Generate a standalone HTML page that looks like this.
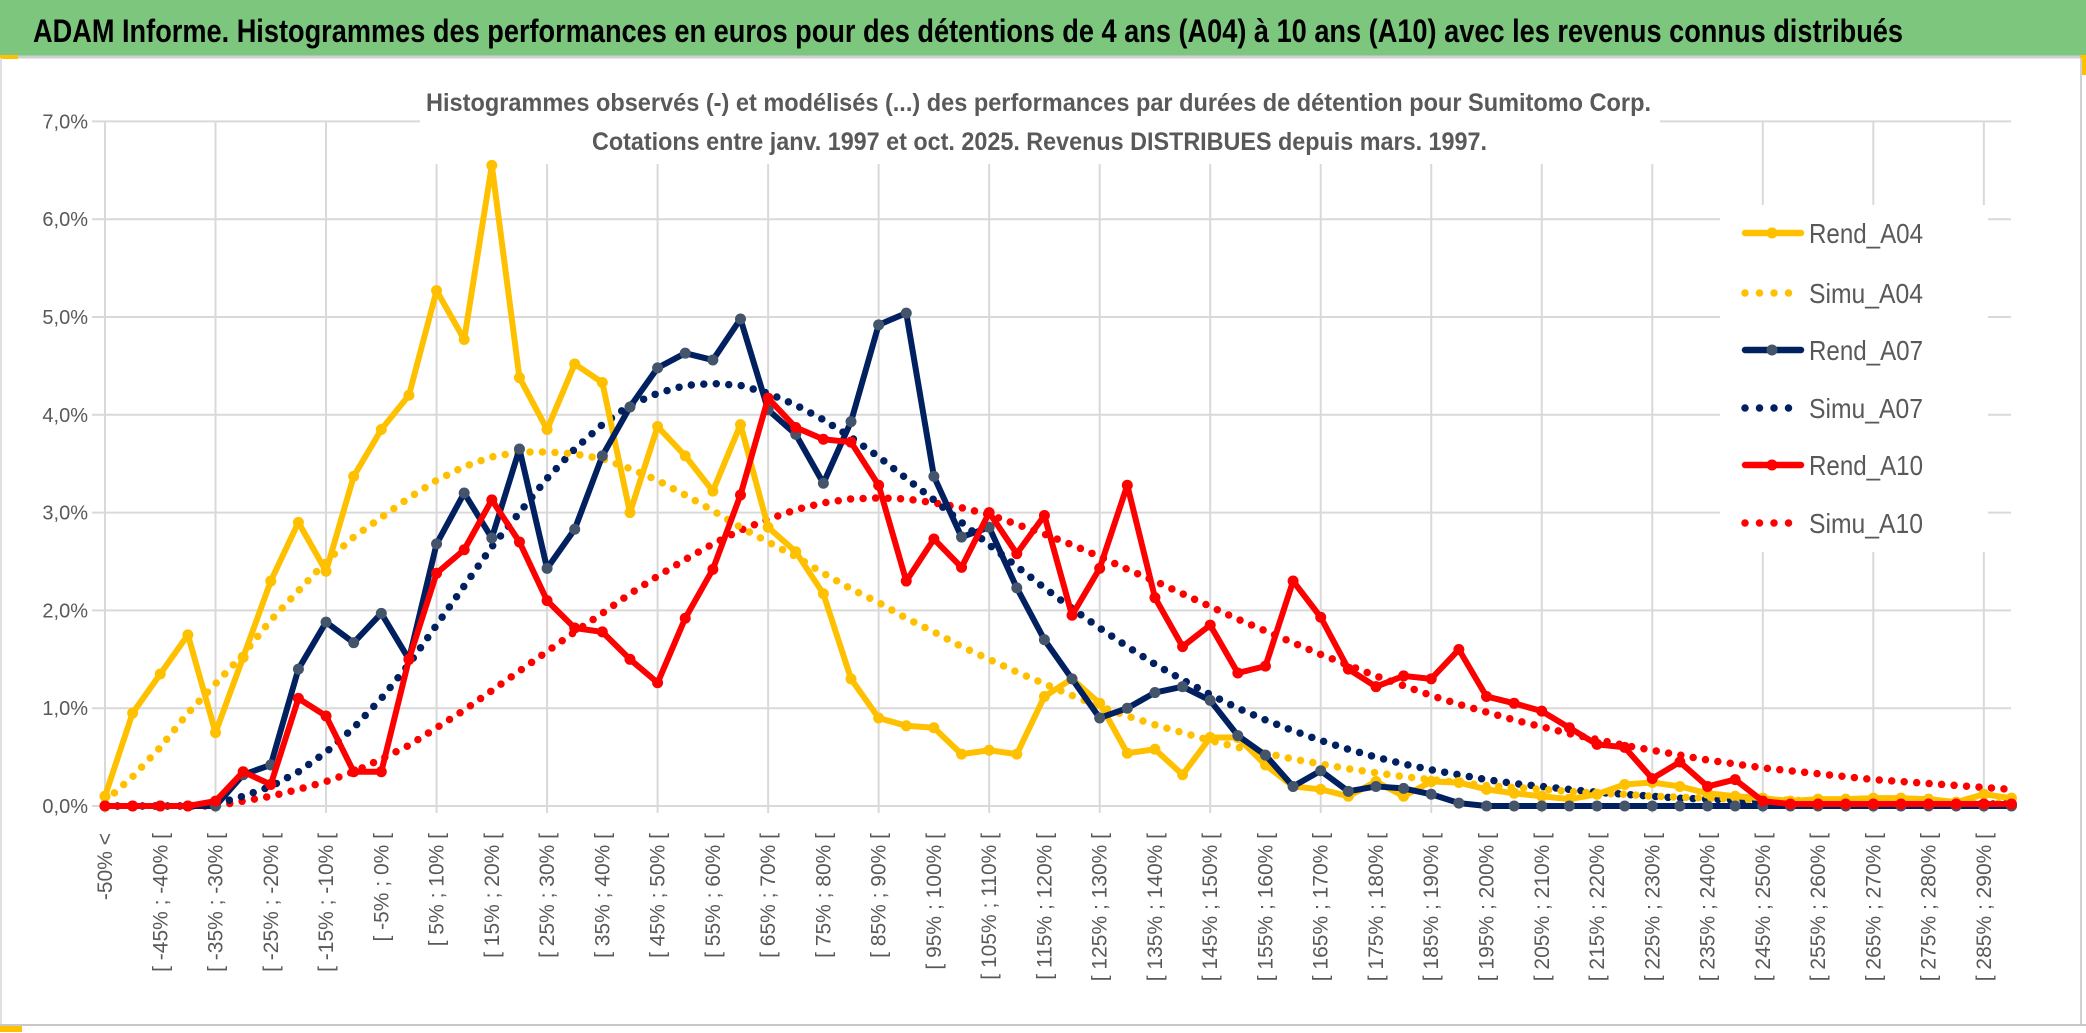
<!DOCTYPE html>
<html><head><meta charset="utf-8"><style>
html,body{margin:0;padding:0;background:#fff}
svg{display:block}
text{font-family:"Liberation Sans",sans-serif}
</style></head><body>
<svg id="chart" width="2086" height="1033" viewBox="0 0 2086 1033">
<rect x="0" y="0" width="2086" height="1033" fill="#fff"/>
<rect x="0" y="0" width="2086" height="56" fill="#7dc67d"/>
<line x1="0" y1="57" x2="2086" y2="57" stroke="#d0d0d0" stroke-width="3"/>
<rect x="0" y="55" width="18" height="4" fill="#FFC000"/>
<rect x="2080" y="55" width="6" height="20" fill="#FFC000"/>
<line x1="2081" y1="58" x2="2081" y2="1024" stroke="#d0d0d0" stroke-width="2"/>
<line x1="1" y1="58" x2="1" y2="1024" stroke="#e0e0e0" stroke-width="2"/>
<line x1="0" y1="1025" x2="2086" y2="1025" stroke="#c8c8c8" stroke-width="2"/>
<rect x="0" y="1026" width="22" height="6" fill="#FFC000"/>
<text x="33" y="42" font-size="32" font-weight="bold" fill="#000" textLength="1870" lengthAdjust="spacingAndGlyphs">ADAM Informe. Histogrammes des performances en euros pour des détentions de 4 ans (A04) à 10 ans (A10) avec les revenus connus distribués</text>
<g id="grid"></g>
<rect x="420" y="86" width="1240" height="78" fill="#fff"/>
<text x="426" y="111" font-size="25" font-weight="600" fill="#595959" textLength="1225" lengthAdjust="spacingAndGlyphs">Histogrammes observés (-) et modélisés (...) des performances par durées de détention pour Sumitomo Corp.</text>
<text x="592" y="150" font-size="25" font-weight="600" fill="#595959" textLength="895" lengthAdjust="spacingAndGlyphs">Cotations entre janv. 1997 et oct. 2025. Revenus DISTRIBUES depuis mars. 1997.</text>
<g id="yaxis"></g>
<g id="xaxis"></g>
<g id="series"></g>
<rect x="1720" y="205" width="268" height="347" fill="#fff"/>
<g id="legend"></g>
</svg>
<script>
const rendA04 = [0.1,0.95,1.35,1.75,0.75,1.52,2.3,2.9,2.4,3.37,3.85,4.2,5.27,4.77,6.55,4.38,3.85,4.52,4.33,3.0,3.88,3.58,3.22,3.9,2.85,2.6,2.17,1.3,0.9,0.82,0.8,0.53,0.57,0.53,1.12,1.3,1.05,0.54,0.58,0.32,0.7,0.7,0.42,0.2,0.17,0.1,0.25,0.1,0.25,0.24,0.17,0.13,0.1,0.07,0.12,0.22,0.24,0.2,0.13,0.1,0.08,0.05,0.07,0.07,0.08,0.08,0.07,0.04,0.12,0.08];
const simuA04 = [0.05,0.3,0.6,0.95,1.25,1.55,1.9,2.2,2.5,2.75,2.95,3.15,3.33,3.47,3.57,3.62,3.62,3.6,3.55,3.45,3.33,3.18,3.02,2.85,2.7,2.55,2.38,2.22,2.08,1.92,1.78,1.63,1.5,1.37,1.25,1.13,1.02,0.92,0.83,0.75,0.67,0.6,0.54,0.48,0.43,0.38,0.34,0.3,0.27,0.24,0.21,0.19,0.17,0.15,0.13,0.12,0.1,0.09,0.08,0.07,0.06,0.06,0.05,0.05,0.05,0.04,0.04,0.04,0.03,0.03];
const rendA07 = [0,0,0,0,0,0.32,0.42,1.4,1.88,1.67,1.97,1.5,2.68,3.2,2.74,3.65,2.43,2.83,3.58,4.08,4.48,4.63,4.56,4.98,4.05,3.8,3.3,3.93,4.92,5.04,3.37,2.75,2.85,2.23,1.7,1.3,0.9,1.0,1.16,1.22,1.08,0.72,0.52,0.2,0.36,0.15,0.2,0.18,0.12,0.03,0,0,0,0,0,0,0,0,0,0,0,0,0,0,0,0,0,0,0,0];
const simuA07 = [0,0,0,0,0.02,0.1,0.2,0.35,0.55,0.8,1.1,1.45,1.85,2.25,2.65,3.0,3.35,3.65,3.9,4.1,4.22,4.3,4.32,4.3,4.22,4.1,3.95,3.77,3.57,3.35,3.13,2.9,2.67,2.45,2.23,2.02,1.82,1.63,1.45,1.29,1.14,1.0,0.88,0.77,0.67,0.58,0.5,0.43,0.37,0.32,0.27,0.23,0.2,0.17,0.14,0.12,0.1,0.08,0.07,0.06,0.05,0.04,0.04,0.03,0.03,0.02,0.02,0.02,0.02,0.02];
const rendA10 = [0,0,0,0,0.05,0.35,0.22,1.1,0.92,0.35,0.35,1.5,2.38,2.62,3.13,2.7,2.1,1.82,1.78,1.5,1.26,1.92,2.42,3.18,4.17,3.87,3.75,3.72,3.28,2.3,2.73,2.44,3.0,2.58,2.97,1.95,2.43,3.28,2.13,1.63,1.85,1.36,1.43,2.3,1.93,1.4,1.22,1.33,1.3,1.6,1.12,1.05,0.97,0.8,0.63,0.6,0.28,0.45,0.2,0.27,0.05,0.02,0.02,0.02,0.02,0.02,0.02,0.02,0.02,0.02];
const simuA10 = [0,0,0,0,0,0.05,0.1,0.17,0.25,0.35,0.48,0.62,0.8,0.98,1.18,1.38,1.58,1.78,1.97,2.17,2.35,2.52,2.68,2.82,2.93,3.03,3.1,3.14,3.15,3.14,3.1,3.05,2.98,2.88,2.78,2.67,2.55,2.42,2.3,2.17,2.04,1.91,1.79,1.67,1.55,1.44,1.33,1.23,1.13,1.04,0.96,0.88,0.81,0.74,0.68,0.62,0.57,0.52,0.47,0.43,0.39,0.36,0.33,0.3,0.27,0.25,0.23,0.21,0.19,0.17];
const xLabels = ["-50% <","[ -45% ; -40% [","[ -35% ; -30% [","[ -25% ; -20% [","[ -15% ; -10% [","[ -5% ; 0% [","[ 5% ; 10% [","[ 15% ; 20% [","[ 25% ; 30% [","[ 35% ; 40% [","[ 45% ; 50% [","[ 55% ; 60% [","[ 65% ; 70% [","[ 75% ; 80% [","[ 85% ; 90% [","[ 95% ; 100% [","[ 105% ; 110% [","[ 115% ; 120% [","[ 125% ; 130% [","[ 135% ; 140% [","[ 145% ; 150% [","[ 155% ; 160% [","[ 165% ; 170% [","[ 175% ; 180% [","[ 185% ; 190% [","[ 195% ; 200% [","[ 205% ; 210% [","[ 215% ; 220% [","[ 225% ; 230% [","[ 235% ; 240% [","[ 245% ; 250% [","[ 255% ; 260% [","[ 265% ; 270% [","[ 275% ; 280% [","[ 285% ; 290% ["];
const yTicks = [0,1,2,3,4,5,6,7];
const yTickLabels = ["0,0%","1,0%","2,0%","3,0%","4,0%","5,0%","6,0%","7,0%"];
const seriesNames = ["Rend_A04","Simu_A04","Rend_A07","Simu_A07","Rend_A10","Simu_A10"];

const NS="http://www.w3.org/2000/svg";
const X0=105, XSTEP=27.63, Y0=806, YPER=97.8;
const xs=i=>X0+i*XSTEP;
const ys=v=>Y0-v*YPER;
function mk(tag,attrs,parent){const e=document.createElementNS(NS,tag);for(const k in attrs)e.setAttribute(k,attrs[k]);parent.appendChild(e);return e;}
const grid=document.getElementById('grid'), yaxis=document.getElementById('yaxis'), xaxis=document.getElementById('xaxis'), ser=document.getElementById('series'), leg=document.getElementById('legend');
yTicks.forEach((t,k)=>{
  const l=mk('line',{x1:92,x2:2011,y1:ys(t),y2:ys(t),stroke:'#d9d9d9','stroke-width':2},grid);
  
  
  const tx=mk('text',{x:88,y:ys(t)+7,'font-size':20,fill:'#595959','text-anchor':'end'},yaxis);
  tx.textContent=yTickLabels[k];
  
  
});
xLabels.forEach((lab,k)=>{
  const i=k*2;
  if(k%2===0){
    const l=mk('line',{x1:xs(i),x2:xs(i),y1:ys(7),y2:813,stroke:'#d9d9d9','stroke-width':2},grid);
    
    
  }
  const tx=mk('text',{x:0,y:0,'font-size':21,fill:'#595959','text-anchor':'end',transform:`translate(${xs(i)+7},833) rotate(-90)`},xaxis);
  tx.textContent=lab;
  
  
});
function drawSolid(data,color,mfill,name){
  const g=mk('g',{},ser);
  
  
  const p=mk('polyline',{points:data.map((v,i)=>xs(i)+','+ys(v)).join(' '),fill:'none',stroke:color,'stroke-width':6,'stroke-linejoin':'round'},g);
  
  
  data.forEach((v,i)=>{
    const c=mk('circle',{cx:xs(i),cy:ys(v),r:5.5,fill:mfill},g);
    
    
  });
}
function drawDotted(data,color,name){
  const p=mk('polyline',{points:data.map((v,i)=>xs(i)+','+ys(v)).join(' '),fill:'none',stroke:color,'stroke-width':7.5,'stroke-linecap':'round','stroke-dasharray':'0 12.5'},ser);
  
  
}
drawDotted(simuA10,'#FF0000','simu-a10-line');
drawDotted(simuA07,'#002060','simu-a07-line');
drawDotted(simuA04,'#FFC000','simu-a04-line');
drawSolid(rendA04,'#FFC000','#FFC000','rend-a04');
drawSolid(rendA07,'#002060','#44546A','rend-a07');
drawSolid(rendA10,'#FF0000','#FF0000','rend-a10');
const legColors=['#FFC000','#FFC000','#002060','#002060','#FF0000','#FF0000'];
const legMark=['#FFC000',null,'#44546A',null,'#FF0000',null];
const legY=[233,293,350,408,465,523];
seriesNames.forEach((n,k)=>{
  const g=mk('g',{},leg);
  
  
  const y=legY[k];
  if(legMark[k]){
    mk('line',{x1:1745,x2:1801,y1:y,y2:y,stroke:legColors[k],'stroke-width':6.5,'stroke-linecap':'round'},g);
    mk('circle',{cx:1772,cy:y,r:5.5,fill:legMark[k]},g);
  } else {
    mk('line',{x1:1745,x2:1801,y1:y,y2:y,stroke:legColors[k],'stroke-width':7.5,'stroke-linecap':'round','stroke-dasharray':'0 14.5'},g);
  }
  const t=mk('text',{x:1809,y:y+10,'font-size':28,fill:'#595959',textLength:114,lengthAdjust:'spacingAndGlyphs'},g);
  t.textContent=n;
});
</script>
</body></html>
